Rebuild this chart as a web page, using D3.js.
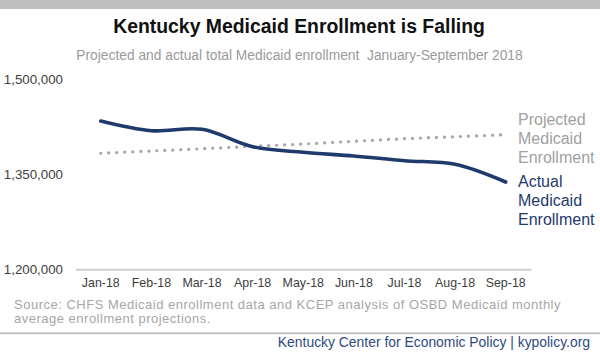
<!DOCTYPE html>
<html>
<head>
<meta charset="utf-8">
<script src="https://cdn.jsdelivr.net/npm/d3@7/dist/d3.min.js"></script>
<style>
  html, body { margin: 0; padding: 0; background: #fff; }
  svg { display: block; font-family: "Liberation Sans", Arial, sans-serif; }
</style>
</head>
<body>
<svg id="chart" width="600" height="355"></svg>
<script>
const months = ["Jan-18","Feb-18","Mar-18","Apr-18","May-18","Jun-18","Jul-18","Aug-18","Sep-18"];
const actual = [1433800, 1418500, 1420700, 1393300, 1384500, 1378600, 1371200, 1365500, 1337600];
const projected = [1382900, 1386500, 1390000, 1393900, 1397500, 1401800, 1405900, 1409000, 1412200];
const yTicks = [1200000, 1350000, 1500000];
const title = "Kentucky Medicaid Enrollment is Falling";
const subtitle = "Projected and actual total Medicaid enrollment  January-September 2018";
const sourceLines = ["Source: CHFS Medicaid enrollment data and KCEP analysis of OSBD Medicaid monthly",
                     "average enrollment projections."];
const footer = "Kentucky Center for Economic Policy | kypolicy.org";
const projLabel = ["Projected", "Medicaid", "Enrollment"];
const actLabel = ["Actual", "Medicaid", "Enrollment"];

const navy = "#1f3a6d";
const gray = "#a6a6a6";

const svg = d3.select("#chart");

svg.append("rect").attr("x", 0).attr("y", 0).attr("width", 600).attr("height", 9).attr("fill", "#bfbfbf");

svg.append("text").attr("x", 299).attr("y", 33).attr("text-anchor", "middle")
  .attr("font-size", 19.4).attr("font-weight", "bold").attr("fill", "#111").text(title);
svg.append("text").attr("x", 299.5).attr("y", 60).attr("text-anchor", "middle")
  .attr("font-size", 13.8).attr("fill", "#9a9a9a").style("white-space", "pre").text(subtitle);

const x = d3.scaleBand().domain(months).range([75.5, 531]);
const y = d3.scaleLinear().domain([1200000, 1500000]).range([269.3, 79]);

const yAxis = d3.axisLeft(y).tickValues(yTicks).tickFormat(d3.format(",")).tickSize(0).tickPadding(0);
const yg = svg.append("g").attr("transform", "translate(63,0)").call(yAxis);
yg.select(".domain").remove();
yg.selectAll("text").attr("font-size", 13.3).attr("fill", "#404040").attr("font-family", "Liberation Sans, Arial, sans-serif");

const xAxis = d3.axisBottom(x).tickSize(0).tickPadding(9);
const xg = svg.append("g").attr("transform", `translate(0,${y(1200000)})`).call(xAxis);
xg.select(".domain").attr("stroke", "#d0d0d0").attr("stroke-width", 2);
xg.selectAll("text").attr("font-size", 12.4).attr("fill", "#404040").attr("font-family", "Liberation Sans, Arial, sans-serif");

const cx = d => x(d) + x.bandwidth() / 2;

const line = d3.line().x((d, i) => cx(months[i])).y(d => y(d)).curve(d3.curveCatmullRom.alpha(0.5));

svg.append("path").datum(projected).attr("d", line).attr("fill", "none")
  .attr("stroke", gray).attr("stroke-width", 3.2).attr("stroke-linecap", "round")
  .attr("stroke-dasharray", "0.1 7.9");

svg.append("path").datum(actual).attr("d", line).attr("fill", "none")
  .attr("stroke", navy).attr("stroke-width", 3.6).attr("stroke-linecap", "round");

const lx = 518;
projLabel.forEach((t, i) => {
  svg.append("text").attr("x", lx).attr("y", 125 + i * 19.2).attr("font-size", 16).attr("fill", "#a0a0a0").text(t);
});
actLabel.forEach((t, i) => {
  svg.append("text").attr("x", lx).attr("y", 187.3 + i * 19).attr("font-size", 16).attr("fill", navy).text(t);
});

sourceLines.forEach((t, i) => {
  svg.append("text").attr("x", 14).attr("y", 308.5 + i * 14.6).attr("font-size", 13)
    .attr("letter-spacing", 0.5).attr("fill", "#a6a6a6").text(t);
});

svg.append("line").attr("x1", 0).attr("x2", 600).attr("y1", 333.3).attr("y2", 333.3)
  .attr("stroke", "#bfbfbf").attr("stroke-width", 2);

svg.append("text").attr("x", 590).attr("y", 346.7).attr("text-anchor", "end")
  .attr("font-size", 13.9).attr("fill", "#2e4a80").text(footer);
</script>
</body>
</html>
